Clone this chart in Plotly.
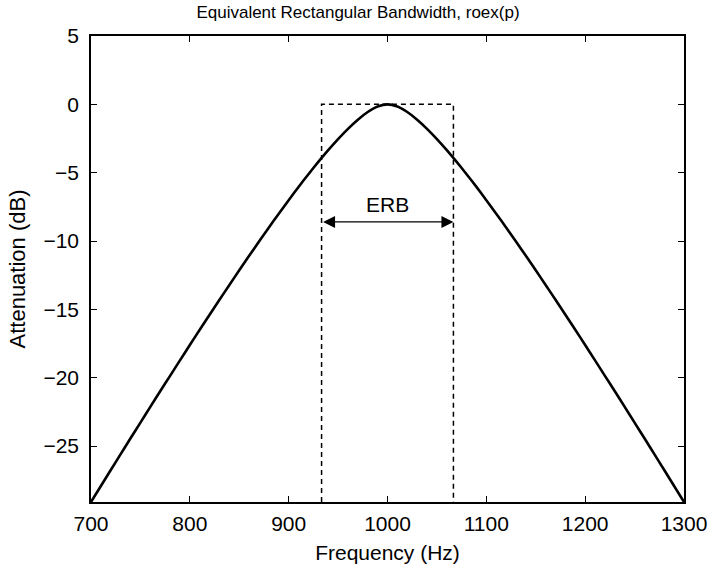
import plotly.graph_objects as go

# Frequency axis samples (Hz)
freq_hz = [700, 710, 720, 730, 740, 750, 760, 770, 780, 790,
           800, 810, 820, 830, 840, 850, 860, 870, 880, 890,
           900, 910, 920, 930, 940, 950, 960, 970, 980, 990,
           1000, 1010, 1020, 1030, 1040, 1050, 1060, 1070, 1080, 1090,
           1100, 1110, 1120, 1130, 1140, 1150, 1160, 1170, 1180, 1190,
           1200, 1210, 1220, 1230, 1240, 1250, 1260, 1270, 1280, 1290, 1300]

# roex(p) filter response (dB)
attenuation_db = [-29.09, -27.92, -26.75, -25.59, -24.43, -23.28, -22.13, -20.99, -19.86, -18.73,
                  -17.61, -16.49, -15.39, -14.30, -13.21, -12.14, -11.08, -10.04, -9.01, -8.00,
                  -7.01, -6.04, -5.11, -4.21, -3.35, -2.54, -1.79, -1.12, -0.56, -0.16,
                  0.00, -0.16, -0.56, -1.12, -1.79, -2.54, -3.35, -4.21, -5.11, -6.04,
                  -7.01, -8.00, -9.01, -10.04, -11.08, -12.14, -13.21, -14.30, -15.39, -16.49,
                  -17.61, -18.73, -19.86, -20.99, -22.13, -23.28, -24.43, -25.59, -26.75, -27.92, -29.09]

# Equivalent rectangle (ERB edges and its height)
erb_edges_hz = [933.3, 1066.7]
erb_top_db = 0.0
erb_arrow_db = -8.6
erb_label_db = -7.3
erb_label_hz = 1000
erb_label = "ERB"

x_range = [700, 1300]
y_range = [-29.09, 5]
x_ticks = [700, 800, 900, 1000, 1100, 1200, 1300]
x_ticktext = ["700", "800", "900", "1000", "1100", "1200", "1300"]
y_ticks = [5, 0, -5, -10, -15, -20, -25]
y_ticktext = ["5", "0", "\u22125", "\u221210", "\u221215", "\u221220", "\u221225"]

title_text = "Equivalent Rectangular Bandwidth, roex(p)"
x_title = "Frequency (Hz)"
y_title = "Attenuation (dB)"

FONT = "Liberation Sans, Arial, Helvetica, sans-serif"

fig = go.Figure()

# dashed rectangle
fig.add_trace(go.Scatter(
    x=[erb_edges_hz[0], erb_edges_hz[0], erb_edges_hz[1], erb_edges_hz[1]],
    y=[y_range[0], erb_top_db, erb_top_db, y_range[0]],
    mode="lines",
    line=dict(color="black", width=1.5, dash="5px,4px"),
    hoverinfo="skip",
    showlegend=False,
    cliponaxis=False,
))

# filter curve
fig.add_trace(go.Scatter(
    x=freq_hz, y=attenuation_db,
    mode="lines",
    line=dict(color="black", width=2.6, shape="spline", smoothing=0.6),
    showlegend=False,
))

# double-headed ERB arrow
fig.add_annotation(
    x=erb_edges_hz[1], y=erb_arrow_db,
    ax=erb_edges_hz[0], ay=erb_arrow_db,
    xref="x", yref="y", axref="x", ayref="y",
    text="", showarrow=True,
    arrowhead=2, startarrowhead=2, arrowside="end+start",
    arrowsize=2.0, startarrowsize=2.0, arrowwidth=1.2, arrowcolor="black",
    standoff=0, startstandoff=0,
)
fig.add_annotation(
    x=erb_label_hz, y=erb_label_db, xref="x", yref="y",
    text=erb_label, showarrow=False,
    font=dict(family=FONT, size=21, color="black"),
)

axis_common = dict(
    showline=True, linecolor="black", linewidth=1.6, mirror="ticks",
    ticks="inside", ticklen=6, tickwidth=1.4, tickcolor="black",
    showgrid=False, zeroline=False,
    tickfont=dict(family=FONT, size=21, color="black"),
)

fig.update_xaxes(range=x_range, tickvals=x_ticks, ticktext=x_ticktext,
                 ticklabelstandoff=2,
                 title=dict(text=x_title, font=dict(family=FONT, size=21, color="black"), standoff=11),
                 **axis_common)
fig.update_yaxes(range=y_range, tickvals=y_ticks, ticktext=y_ticktext,
                 ticklabelstandoff=6,
                 title=dict(text=y_title, font=dict(family=FONT, size=22, color="black"), standoff=12),
                 **axis_common)

fig.update_layout(
    width=717, height=569,
    margin=dict(l=91, r=33, t=36, b=67, autoexpand=False),
    paper_bgcolor="white", plot_bgcolor="white",
    title=dict(text=title_text, x=358 / 717, xref="container", xanchor="center",
               y=1 - 12 / 569, yref="container", yanchor="middle",
               font=dict(family=FONT, size=17, color="black")),
)

fig.write_html(
    "out.html",
    config={"displayModeBar": False},
    post_script="document.body.style.margin='0';document.body.style.padding='0';",
)
